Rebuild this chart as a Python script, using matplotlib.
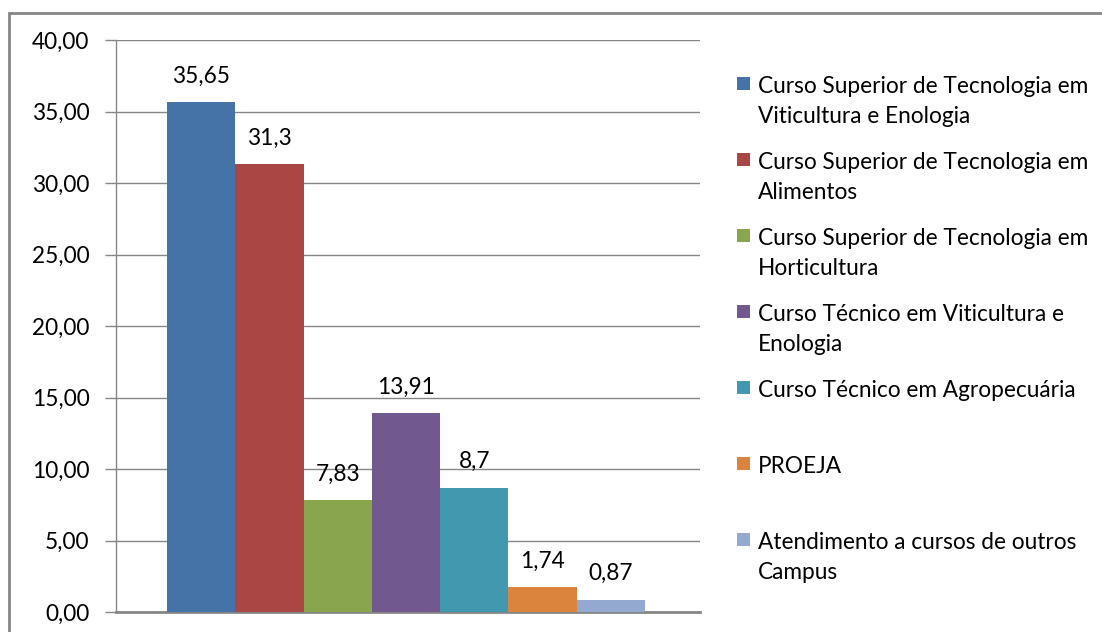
import matplotlib
matplotlib.use("Agg")
import matplotlib.pyplot as plt
from matplotlib.patches import Rectangle
from matplotlib.ticker import FuncFormatter, MultipleLocator

categories = [
    "Curso Superior de Tecnologia em\nViticultura e Enologia",
    "Curso Superior de Tecnologia em\nAlimentos",
    "Curso Superior de Tecnologia em\nHorticultura",
    "Curso Técnico em Viticultura e\nEnologia",
    "Curso Técnico em Agropecuária",
    "PROEJA",
    "Atendimento a cursos de outros\nCampus",
]
values = [35.65, 31.3, 7.83, 13.91, 8.7, 1.74, 0.87]
value_labels = ["35,65", "31,3", "7,83", "13,91", "8,7", "1,74", "0,87"]
colors = ["#4572A7", "#AA4643", "#89A54E", "#71588F", "#4198AF", "#DB843D", "#93A9CF"]

W, H = 1102, 632
FONT = "Lato"
FS = 16.3
plt.rcParams["font.family"] = [FONT, "DejaVu Sans"]

fig = plt.figure(figsize=(W / 100, H / 100), dpi=100)
ax = fig.add_axes([116 / W, 1 - 612 / H, (700 - 116) / W, (612 - 40) / H])

n = len(values)
bw = 68.3 / 584
center = (406 - 116) / 584
x0 = center - n * bw / 2
xs = [x0 + bw * (i + 0.5) for i in range(n)]
bars = ax.bar(xs, values, width=bw, color=colors, edgecolor="none", zorder=3)
ax.set_xlim(0, 1)
ax.set_ylim(0, 40)
ax.yaxis.set_major_locator(MultipleLocator(5))
ax.yaxis.set_major_formatter(FuncFormatter(lambda v, p: f"{v:.2f}".replace(".", ",")))
ax.grid(axis="y", color="#868686", linewidth=1.0, zorder=0)
ax.set_axisbelow(True)
ax.set_xticks([])
for s in ["top", "right"]:
    ax.spines[s].set_visible(False)
ax.spines["left"].set_color("#868686")
ax.spines["left"].set_linewidth(1.0)
ax.spines["bottom"].set_color("#868686")
ax.spines["bottom"].set_linewidth(2.0)
ax.tick_params(axis="y", length=8, width=1, color="#868686", pad=11,
               labelsize=FS, labelcolor="#000000")

for b, lab in zip(bars, value_labels):
    ax.annotate(lab, (b.get_x() + b.get_width() / 2, b.get_height()),
                xytext=(0, 11), textcoords="offset points",
                ha="center", va="bottom", fontsize=FS, color="#000000")

# legend (manual, Excel-like wrapping)
for i, (lab, c) in enumerate(zip(categories, colors)):
    base = 93 + 76 * i
    fig.patches.append(Rectangle((737 / W, 1 - (base - 3) / H), 13 / W, 13 / H,
                                 transform=fig.transFigure, facecolor=c,
                                 edgecolor="none"))
    for j, line in enumerate(lab.split("\n")):
        fig.text(758 / W, 1 - (base + 30 * j) / H, line, ha="left",
                 va="baseline", fontsize=FS, color="#000000")

# outer chart border
fig.patches.append(Rectangle((9 / W, -0.1), 1.2, 1 - 13 / H + 0.1,
                             transform=fig.transFigure, facecolor="none",
                             edgecolor="#868686", linewidth=2))

fig.savefig("out.png", dpi=100)
